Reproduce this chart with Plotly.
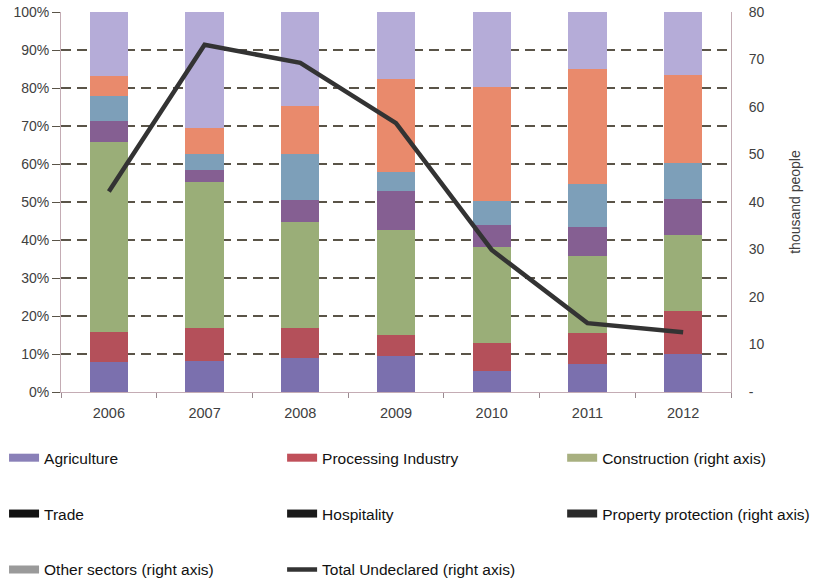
import plotly.graph_objects as go

years = ["2006", "2007", "2008", "2009", "2010", "2011", "2012"]
# segment shares (%)
agriculture = [7.8, 8.2, 8.9, 9.5, 5.6, 7.5, 10.0]
processing = [8.1, 8.6, 8.0, 5.5, 7.2, 7.9, 11.3]
construction = [50.0, 38.5, 27.9, 27.6, 25.4, 20.4, 20.0]
trade = [5.5, 3.1, 5.7, 10.4, 5.7, 7.5, 9.5]
hospitality = [6.5, 4.2, 12.1, 5.0, 6.4, 11.4, 9.4]
property_protection = [5.3, 6.8, 12.7, 24.5, 30.0, 30.2, 23.2]
other_sectors = [16.8, 30.6, 24.7, 17.5, 19.7, 15.1, 16.6]
total_undeclared = [42.2, 73.1, 69.3, 56.6, 29.9, 14.5, 12.6]

series = [
    ("Agriculture", agriculture, "#7B70AE"),
    ("Processing Industry", processing, "#B4505A"),
    ("Construction (right axis)", construction, "#9AAE78"),
    ("Trade", trade, "#855F92"),
    ("Hospitality", hospitality, "#7D9FB9"),
    ("Property protection (right axis)", property_protection, "#E98A6C"),
    ("Other sectors (right axis)", other_sectors, "#B5ACD8"),
]
legend_colors = ["#8A80B8", "#C0505A", "#A8B080", "#111111", "#1A1A1A", "#2A2A2A", "#9A9A9A"]

fig = go.Figure()
for name, vals, col in series:
    fig.add_trace(go.Bar(x=years, y=vals, name=name, marker=dict(color=col, line=dict(width=0)),
                         showlegend=False))

# legend grid: 3 columns x 3 rows, each entry in its own legend box
col_x = [-0.085, 0.330, 0.748]
row_y = [-0.174, -0.321, -0.468]
legend_ids = []
for i, ((name, vals, col), lc) in enumerate(zip(series, legend_colors)):
    lid = "legend" if i == 0 else f"legend{i + 1}"
    legend_ids.append(lid)
    fig.add_trace(go.Scatter(x=[None], y=[None], mode="lines", name=name,
                             line=dict(color=lc, width=8), legend=lid))

line_lid = "legend8"
legend_ids.append(line_lid)
fig.add_trace(go.Scatter(x=years, y=total_undeclared, name="Total Undeclared (right axis)",
                         mode="lines", line=dict(color="#333333", width=4.5), yaxis="y2",
                         legend=line_lid))

grid_col = "#5A5448"
leg_layout = {}
for i, lid in enumerate(legend_ids):
    r, c = divmod(i, 3)
    leg_layout[lid] = dict(x=col_x[c], y=row_y[r], orientation="h", xanchor="left", yanchor="middle",
                           font=dict(family="Liberation Sans, Arial", size=15.5, color="#111111"),
                           bgcolor="rgba(0,0,0,0)", itemwidth=30)

fig.update_layout(
    width=813, height=582,
    margin=dict(l=61, r=82, t=12, b=190, autoexpand=False),
    paper_bgcolor="white", plot_bgcolor="white",
    barmode="stack", bargap=0.6,
    font=dict(family="Liberation Sans, Arial", size=14, color="#404040"),
    xaxis=dict(showgrid=False, showline=True, linecolor="#C4ACB4", linewidth=1,
               ticks="outside", tickson="boundaries", ticklen=5, tickcolor="#9A8A90",
               ticklabelstandoff=8, tickfont=dict(size=14.5, color="#404040")),
    yaxis=dict(range=[0, 100], dtick=10, ticksuffix="%", showgrid=True, gridcolor=grid_col,
               griddash="10px,6px", gridwidth=1.5, showline=True, linecolor="#C4ACB4", linewidth=1,
               ticks="outside", ticklen=8, tickcolor=grid_col, zeroline=False,
               tickfont=dict(size=14, color="#404040")),
    yaxis2=dict(range=[0, 80], overlaying="y", side="right", tickvals=[0, 10, 20, 30, 40, 50, 60, 70, 80],
                ticktext=["-", "10", "20", "30", "40", "50", "60", "70", "80"], showgrid=False,
                showline=True, linecolor="#C4ACB4", linewidth=1, zeroline=False,
                ticks="", ticklabelstandoff=14,
                title=dict(text="thousand people", font=dict(size=14, color="#404040"), standoff=26),
                tickfont=dict(size=14, color="#404040")),
    **leg_layout,
)

fig.write_html("out.html")
